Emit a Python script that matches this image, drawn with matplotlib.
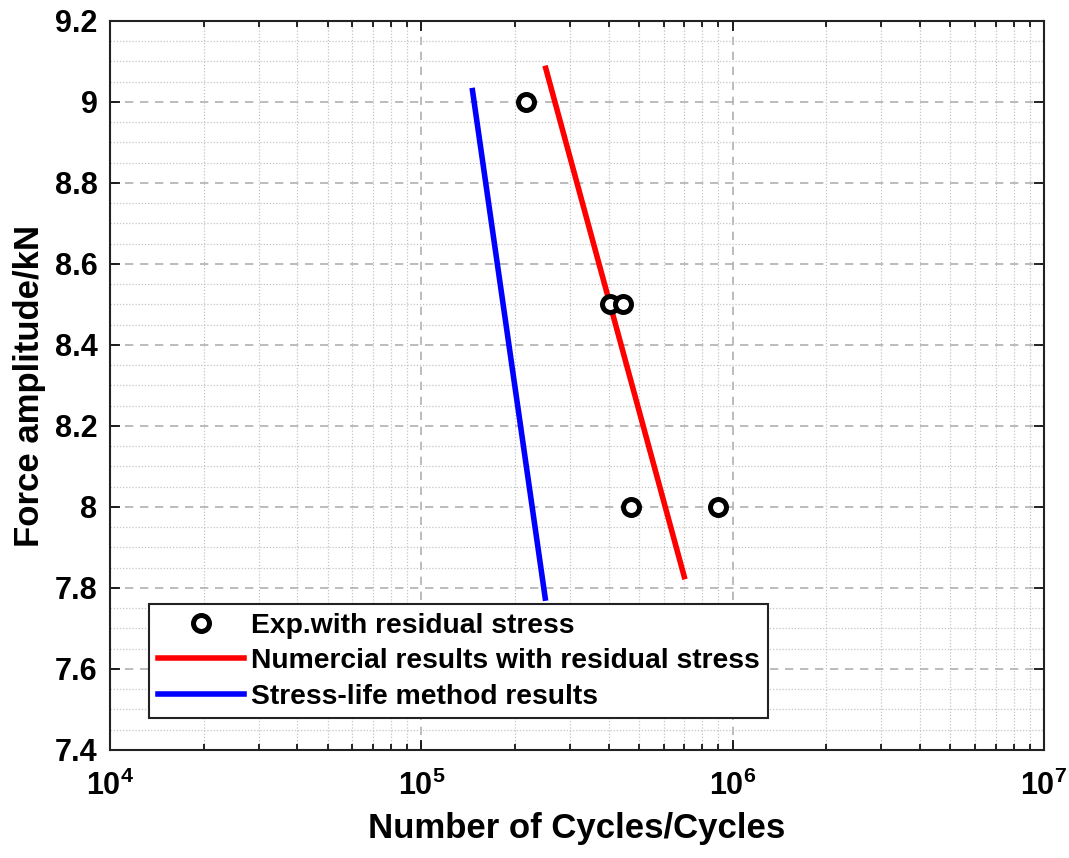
import matplotlib

matplotlib.use("Agg")
import matplotlib.pyplot as plt
import numpy as np
from matplotlib.ticker import LogLocator, MultipleLocator, NullFormatter

plt.rcParams["font.family"] = ["Liberation Sans", "DejaVu Sans"]
plt.rcParams["font.weight"] = "bold"
plt.rcParams["mathtext.fontset"] = "custom"
plt.rcParams["mathtext.rm"] = "Liberation Sans:bold"
plt.rcParams["mathtext.bf"] = "Liberation Sans:bold"
plt.rcParams["mathtext.default"] = "bf"

# experiments (cycles, force amplitude kN)
exp_cycles = [2.17e5, 4.04e5, 4.45e5, 4.72e5, 9.0e5]
exp_force = [9.0, 8.5, 8.5, 8.0, 8.0]

# numerical prediction with residual stress
num_cycles = [2.51e5, 6.99e5]
num_force = [9.083, 7.828]

# stress-life method
sl_cycles = [1.46e5, 2.50e5]
sl_force = [9.028, 7.775]

fig = plt.figure(figsize=(10.69, 8.58), dpi=100)
ax = fig.add_axes([0.1029, 0.1259, 0.8737, 0.8497])

ax.plot(exp_cycles, exp_force, "o", ls="none", mfc="white", mec="black",
        mew=3.6, ms=11.5, label="Exp.with residual stress", zorder=4)
ax.plot(num_cycles, num_force, "-", color="#ff0000", lw=4,
        label="Numercial results with residual stress", zorder=3)
ax.plot(sl_cycles, sl_force, "-", color="#0000ff", lw=4,
        label="Stress-life method results", zorder=3)

ax.set_xscale("log")
ax.set_xlim(1e4, 1e7)
ax.set_ylim(7.4, 9.2)
ax.xaxis.set_major_locator(LogLocator(base=10, numticks=10))
ax.xaxis.set_minor_locator(LogLocator(base=10, subs=np.arange(2, 10), numticks=20))
ax.xaxis.set_minor_formatter(NullFormatter())
ax.yaxis.set_major_locator(MultipleLocator(0.2))
ax.yaxis.set_minor_locator(MultipleLocator(0.05))
ax.yaxis.set_major_formatter(plt.FuncFormatter(lambda v, p: f"{v:g}"))

ax.grid(which="major", color="#b0b0b0", ls=(0, (5, 4)), lw=1.2)
ax.grid(which="minor", color="#c4c4c4", ls=(0, (1, 1.5)), lw=0.9)
ax.set_axisbelow(True)
ax.tick_params(which="both", direction="in", top=True, right=True,
               labelsize=22, width=1.2)
ax.tick_params(axis="y", pad=9)
ax.tick_params(axis="x", pad=15)
ax.tick_params(which="major", length=7)
ax.tick_params(axis="x", which="minor", length=4)
ax.tick_params(axis="y", which="minor", length=0)
for s in ax.spines.values():
    s.set_linewidth(1.5)
    s.set_color("#222222")

ax.set_xlabel("Number of Cycles/Cycles", fontsize=25, fontweight="bold", labelpad=7)
ax.set_ylabel("Force amplitude/kN", fontsize=25, fontweight="bold")
ax.yaxis.set_label_coords(-0.069, 0.5)

leg = ax.legend(loc="upper left", bbox_to_anchor=(0.042, 0.200), borderaxespad=0,
                fontsize=20.3, frameon=True, fancybox=False, handlelength=3.05,
                handletextpad=0.25, labelspacing=0.34, borderpad=0.3)
leg.get_frame().set_edgecolor("#222222")
leg.get_frame().set_linewidth(1.5)
leg.get_frame().set_alpha(1)

fig.savefig("out.png", dpi=100)
